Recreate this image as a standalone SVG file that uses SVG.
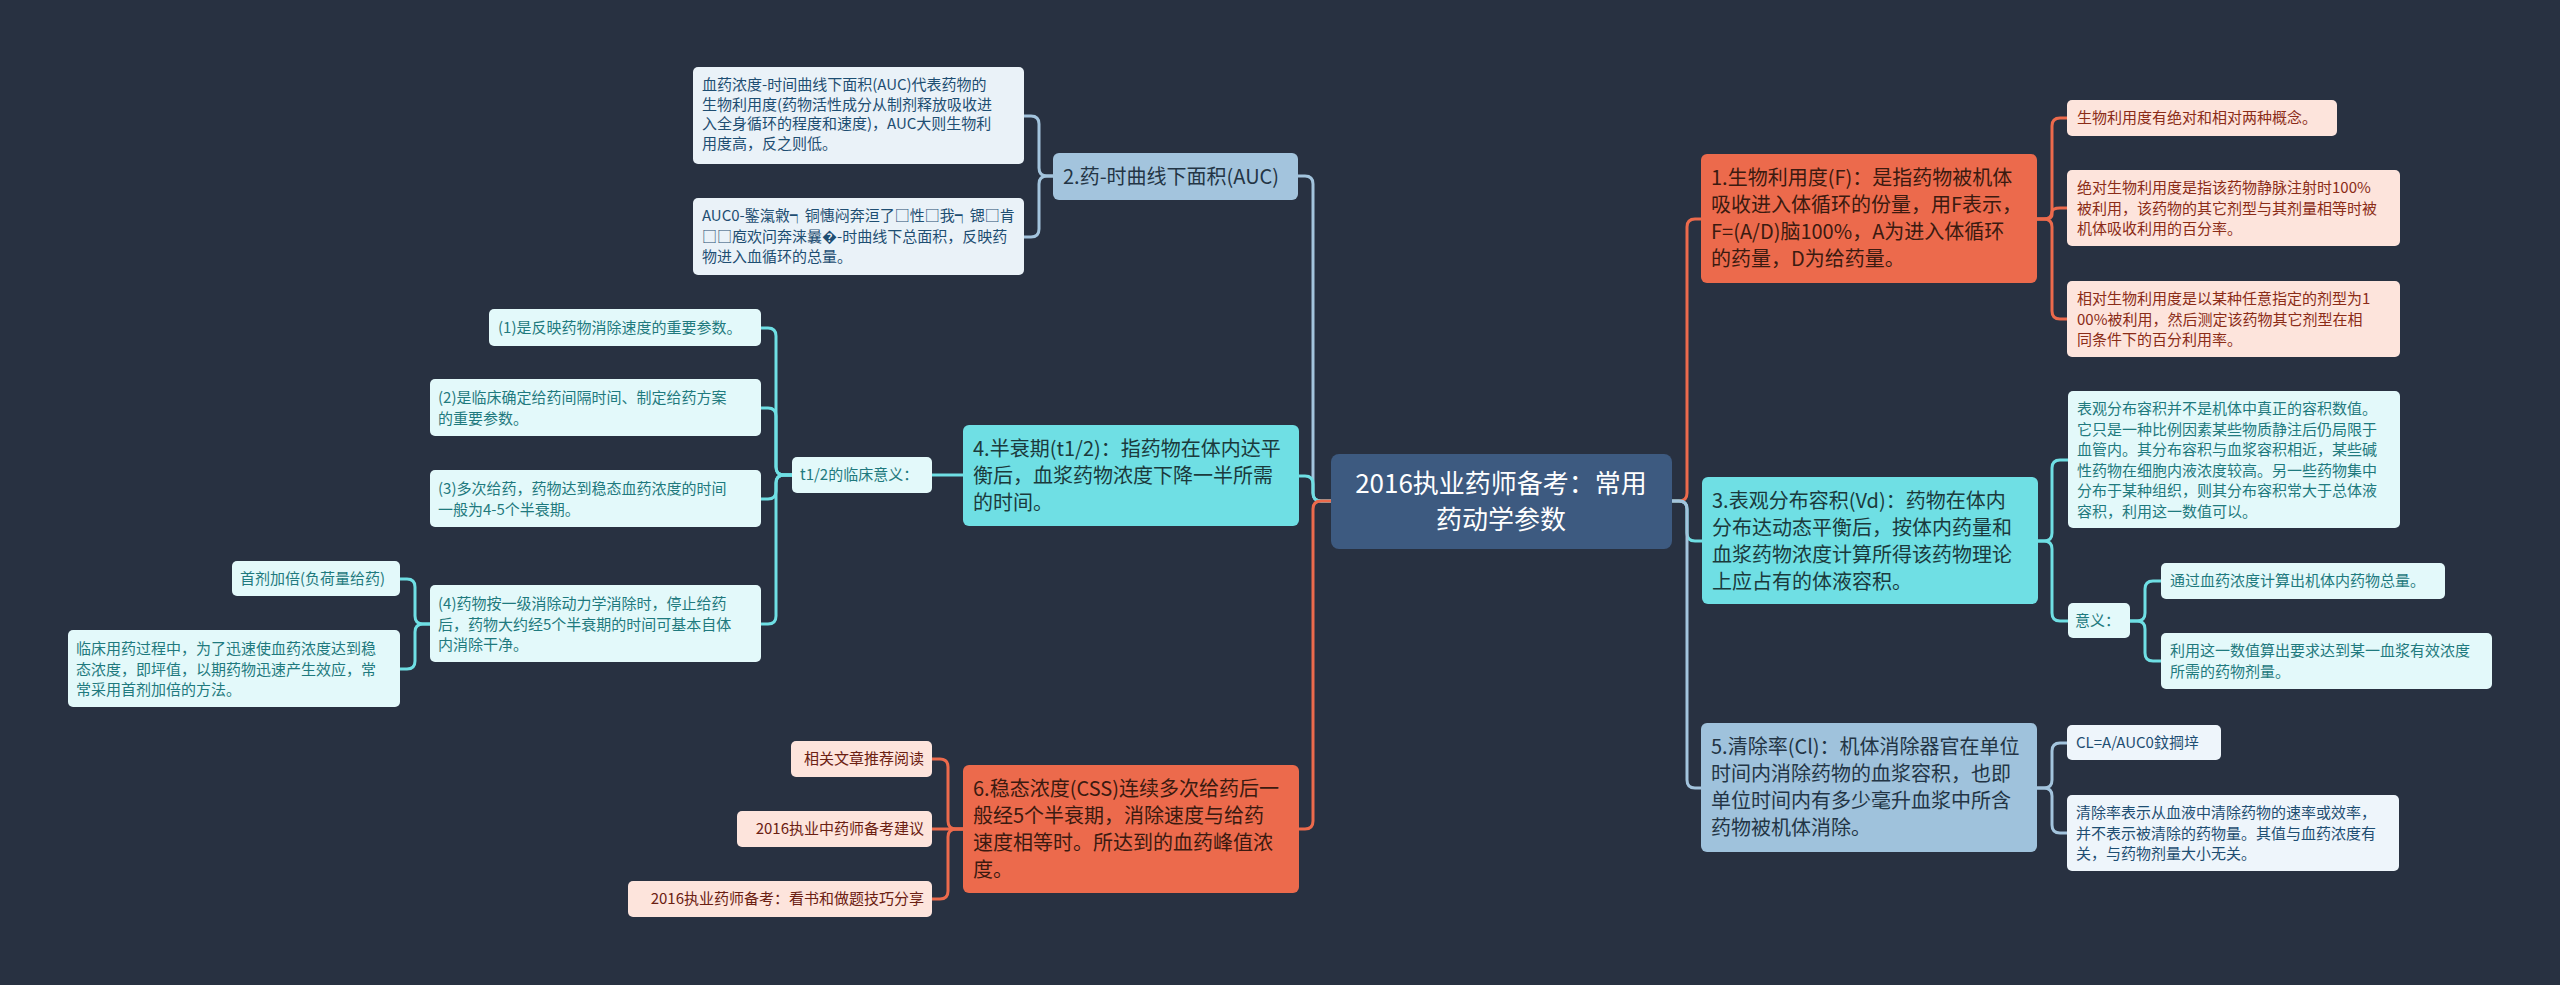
<svg xmlns="http://www.w3.org/2000/svg" width="2560" height="985" viewBox="0 0 2560 985">
<style>
text{font-family:"Noto Sans CJK SC","Noto Sans",sans-serif}
.m{font-size:20px}
.s{font-size:15px}
.c{fill:none;stroke-width:3}
.or{stroke:#ec6a4c}.cy{stroke:#6fdfe4}.bl{stroke:#a3c4dd}
</style>
<rect width="2560" height="985" fill="#283141"/>
<g id="connectors">
<path class="c bl" d="M1331 501 H1321 Q1313 501 1313 493 V184 Q1313 176 1305 176 H1298"/>
<path class="c cy" d="M1331 501 H1321 Q1313 501 1313 493 V484 Q1313 476 1305 476 H1299"/>
<path class="c or" d="M1331 501 H1321 Q1313 501 1313 509 V821 Q1313 829 1305 829 H1299"/>
<path class="c or" d="M1672 501 H1679 Q1687 501 1687 493 V227 Q1687 219 1695 219 H1701"/>
<path class="c cy" d="M1672 501 H1679 Q1687 501 1687 509 V533 Q1687 541 1695 541 H1702"/>
<path class="c bl" d="M1672 501 H1679 Q1687 501 1687 509 V780 Q1687 788 1695 788 H1701"/>
<path class="c bl" d="M1053 176 H1047 Q1039 176 1039 168 V124 Q1039 116 1031 116 H1024"/>
<path class="c bl" d="M1053 176 H1047 Q1039 176 1039 184 V229 Q1039 237 1031 237 H1024"/>
<path class="c cy" d="M963 475 H932"/>
<path class="c cy" d="M792 475 H784 Q776 475 776 467 V336 Q776 328 768 328 H761"/>
<path class="c cy" d="M792 475 H784 Q776 475 776 467 V416 Q776 408 768 408 H761"/>
<path class="c cy" d="M792 475 H784 Q776 475 776 483 V491 Q776 499 768 499 H761"/>
<path class="c cy" d="M792 475 H784 Q776 475 776 483 V616 Q776 624 768 624 H761"/>
<path class="c cy" d="M430 624 H423 Q415 624 415 616 V587 Q415 579 407 579 H400"/>
<path class="c cy" d="M430 624 H423 Q415 624 415 632 V661 Q415 669 407 669 H400"/>
<path class="c or" d="M963 829 H956 Q948 829 948 821 V767 Q948 759 940 759 H932"/>
<path class="c or" d="M963 829 H932"/>
<path class="c or" d="M963 829 H956 Q948 829 948 837 V891 Q948 899 940 899 H932"/>
<path class="c or" d="M2037 219 H2044 Q2052 219 2052 211 V126 Q2052 118 2060 118 H2067"/>
<path class="c or" d="M2037 219 H2044 Q2052 219 2052 215 V212 Q2052 208 2060 208 H2067"/>
<path class="c or" d="M2037 219 H2044 Q2052 219 2052 227 V311 Q2052 319 2060 319 H2067"/>
<path class="c cy" d="M2038 541 H2044 Q2052 541 2052 533 V468 Q2052 460 2060 460 H2068"/>
<path class="c cy" d="M2038 541 H2044 Q2052 541 2052 549 V613 Q2052 621 2060 621 H2068"/>
<path class="c cy" d="M2130 621 H2137 Q2145 621 2145 613 V589 Q2145 581 2153 581 H2161"/>
<path class="c cy" d="M2130 621 H2137 Q2145 621 2145 629 V653 Q2145 661 2153 661 H2161"/>
<path class="c bl" d="M2037 788 H2044 Q2052 788 2052 780 V751 Q2052 743 2060 743 H2067"/>
<path class="c bl" d="M2037 788 H2044 Q2052 788 2052 796 V825 Q2052 833 2060 833 H2067"/>
</g>
<g id="root"><rect x="1331" y="454" width="341" height="95" rx="8" fill="#3d5a80"/>
<text x="1501" y="493" font-size="26" fill="#fff" text-anchor="middle">2016执业药师备考：常用</text>
<text x="1501" y="529" font-size="26" fill="#fff" text-anchor="middle">药动学参数</text></g>
<g id="n1"><rect x="1701" y="154" width="336" height="129" rx="6" fill="#ec6a4c"/>
<text class="m" fill="#3b1a10"><tspan x="1711" y="185">1.生物利用度(F)：是指药物被机体</tspan><tspan x="1711" y="212">吸收进入体循环的份量，用F表示，</tspan><tspan x="1711" y="239">F=(A/D)脑100%，A为进入体循环</tspan><tspan x="1711" y="266">的药量，D为给药量。</tspan></text></g>
<g id="n1a"><rect x="2067" y="100" width="270" height="36" rx="5" fill="#fde4dc"/>
<text class="s" fill="#8b2c17" x="2077" y="123">生物利用度有绝对和相对两种概念。</text></g>
<g id="n1b"><rect x="2067" y="170" width="333" height="76" rx="5" fill="#fde4dc"/>
<text class="s" fill="#8b2c17"><tspan x="2077" y="193">绝对生物利用度是指该药物静脉注射时100%</tspan><tspan x="2077" y="213.5">被利用，该药物的其它剂型与其剂量相等时被</tspan><tspan x="2077" y="234">机体吸收利用的百分率。</tspan></text></g>
<g id="n1c"><rect x="2067" y="281" width="333" height="76" rx="5" fill="#fde4dc"/>
<text class="s" fill="#8b2c17"><tspan x="2077" y="304">相对生物利用度是以某种任意指定的剂型为1</tspan><tspan x="2077" y="324.5">00%被利用，然后测定该药物其它剂型在相</tspan><tspan x="2077" y="345">同条件下的百分利用率。</tspan></text></g>
<g id="n3"><rect x="1702" y="477" width="336" height="127" rx="6" fill="#6fdfe4"/>
<text class="m" fill="#1b3a3c"><tspan x="1712" y="508">3.表观分布容积(Vd)：药物在体内</tspan><tspan x="1712" y="535">分布达动态平衡后，按体内药量和</tspan><tspan x="1712" y="562">血浆药物浓度计算所得该药物理论</tspan><tspan x="1712" y="589">上应占有的体液容积。</tspan></text></g>
<g id="n3a"><rect x="2068" y="391" width="332" height="137" rx="5" fill="#e3f9fa"/>
<text class="s" fill="#1f7a7e"><tspan x="2077" y="414">表观分布容积并不是机体中真正的容积数值。</tspan><tspan x="2077" y="434.5">它只是一种比例因素某些物质静注后仍局限于</tspan><tspan x="2077" y="455">血管内。其分布容积与血浆容积相近，某些碱</tspan><tspan x="2077" y="475.5">性药物在细胞内液浓度较高。另一些药物集中</tspan><tspan x="2077" y="496">分布于某种组织，则其分布容积常大于总体液</tspan><tspan x="2077" y="516.5">容积，利用这一数值可以。</tspan></text></g>
<g id="n3b"><rect x="2068" y="603" width="62" height="35" rx="5" fill="#e3f9fa"/>
<text class="s" fill="#1f7a7e" x="2075" y="626">意义：</text></g>
<g id="n3b1"><rect x="2161" y="563" width="284" height="36" rx="5" fill="#e3f9fa"/>
<text class="s" fill="#1f7a7e" x="2170" y="586">通过血药浓度计算出机体内药物总量。</text></g>
<g id="n3b2"><rect x="2161" y="633" width="331" height="56" rx="5" fill="#e3f9fa"/>
<text class="s" fill="#1f7a7e"><tspan x="2170" y="656">利用这一数值算出要求达到某一血浆有效浓度</tspan><tspan x="2170" y="676.5">所需的药物剂量。</tspan></text></g>
<g id="n5"><rect x="1701" y="723" width="336" height="129" rx="6" fill="#9fc2dc"/>
<text class="m" fill="#233545"><tspan x="1711" y="754">5.清除率(Cl)：机体消除器官在单位</tspan><tspan x="1711" y="781">时间内消除药物的血浆容积，也即</tspan><tspan x="1711" y="808">单位时间内有多少毫升血浆中所含</tspan><tspan x="1711" y="835">药物被机体消除。</tspan></text></g>
<g id="n5a"><rect x="2067" y="725" width="154" height="35" rx="5" fill="#eef5fb"/>
<text class="s" fill="#1e4e72" x="2076" y="748">CL=A/AUC0鈫掆垶</text></g>
<g id="n5b"><rect x="2067" y="795" width="332" height="76" rx="5" fill="#eef5fb"/>
<text class="s" fill="#1e4e72"><tspan x="2076" y="818">清除率表示从血液中清除药物的速率或效率，</tspan><tspan x="2076" y="838.5">并不表示被清除的药物量。其值与血药浓度有</tspan><tspan x="2076" y="859">关，与药物剂量大小无关。</tspan></text></g>
<g id="n2"><rect x="1053" y="153" width="245" height="47" rx="6" fill="#a3c4dd"/>
<text class="m" fill="#233545" x="1063" y="184">2.药-时曲线下面积(AUC)</text></g>
<g id="n2a"><rect x="693" y="67" width="331" height="97" rx="5" fill="#eaf2f8"/>
<text class="s" fill="#1e4e72"><tspan x="702" y="90">血药浓度-时间曲线下面积(AUC)代表药物的</tspan><tspan x="702" y="109.5">生物利用度(药物活性成分从制剂释放吸收进</tspan><tspan x="702" y="129">入全身循环的程度和速度)，AUC大则生物利</tspan><tspan x="702" y="148.5">用度高，反之则低。</tspan></text></g>
<g id="n2b"><rect x="693" y="198" width="331" height="77" rx="5" fill="#eaf2f8"/>
<text class="s" fill="#1e4e72"><tspan x="702" y="221">AUC0-鍳滊敹┑铜憓闷奔洹了□性□我┑锶□肯</tspan><tspan x="702" y="241.5">□□庖欢问奔涞曩�-时曲线下总面积，反映药</tspan><tspan x="702" y="262">物进入血循环的总量。</tspan></text></g>
<g id="n4"><rect x="963" y="425" width="336" height="101" rx="6" fill="#6fdfe4"/>
<text class="m" fill="#1b3a3c"><tspan x="973" y="456">4.半衰期(t1/2)：指药物在体内达平</tspan><tspan x="973" y="483">衡后，血浆药物浓度下降一半所需</tspan><tspan x="973" y="510">的时间。</tspan></text></g>
<g id="n4a"><rect x="792" y="457" width="140" height="36" rx="5" fill="#e3f9fa"/>
<text class="s" fill="#1f7a7e" x="800" y="480">t1/2的临床意义：</text></g>
<g id="n4a1"><rect x="489" y="309" width="272" height="37" rx="5" fill="#e3f9fa"/>
<text class="s" fill="#1f7a7e" x="498" y="333">(1)是反映药物消除速度的重要参数。</text></g>
<g id="n4a2"><rect x="430" y="379" width="331" height="57" rx="5" fill="#e3f9fa"/>
<text class="s" fill="#1f7a7e"><tspan x="438" y="403">(2)是临床确定给药间隔时间、制定给药方案</tspan><tspan x="438" y="423.5">的重要参数。</tspan></text></g>
<g id="n4a3"><rect x="430" y="470" width="331" height="57" rx="5" fill="#e3f9fa"/>
<text class="s" fill="#1f7a7e"><tspan x="438" y="494">(3)多次给药，药物达到稳态血药浓度的时间</tspan><tspan x="438" y="514.5">一般为4-5个半衰期。</tspan></text></g>
<g id="n4a4"><rect x="430" y="585" width="331" height="77" rx="5" fill="#e3f9fa"/>
<text class="s" fill="#1f7a7e"><tspan x="438" y="609">(4)药物按一级消除动力学消除时，停止给药</tspan><tspan x="438" y="629.5">后，药物大约经5个半衰期的时间可基本自体</tspan><tspan x="438" y="650">内消除干净。</tspan></text></g>
<g id="n4a4a"><rect x="232" y="561" width="168" height="35" rx="5" fill="#e3f9fa"/>
<text class="s" fill="#1f7a7e" x="240" y="584">首剂加倍(负荷量给药)</text></g>
<g id="n4a4b"><rect x="68" y="630" width="332" height="77" rx="5" fill="#e3f9fa"/>
<text class="s" fill="#1f7a7e"><tspan x="76" y="654">临床用药过程中，为了迅速使血药浓度达到稳</tspan><tspan x="76" y="674.5">态浓度，即坪值，以期药物迅速产生效应，常</tspan><tspan x="76" y="695">常采用首剂加倍的方法。</tspan></text></g>
<g id="n6"><rect x="963" y="765" width="336" height="128" rx="6" fill="#ec6a4c"/>
<text class="m" fill="#3b1a10"><tspan x="973" y="796">6.稳态浓度(CSS)连续多次给药后一</tspan><tspan x="973" y="823">般经5个半衰期，消除速度与给药</tspan><tspan x="973" y="850">速度相等时。所达到的血药峰值浓</tspan><tspan x="973" y="877">度。</tspan></text></g>
<g id="n6a"><rect x="791" y="741" width="141" height="36" rx="5" fill="#fde4dc"/>
<text class="s" fill="#6b2012" x="924" y="764" text-anchor="end">相关文章推荐阅读</text></g>
<g id="n6b"><rect x="737" y="811" width="195" height="36" rx="5" fill="#fde4dc"/>
<text class="s" fill="#6b2012" x="924" y="834" text-anchor="end">2016执业中药师备考建议</text></g>
<g id="n6c"><rect x="628" y="881" width="304" height="36" rx="5" fill="#fde4dc"/>
<text class="s" fill="#6b2012" x="924" y="904" text-anchor="end">2016执业药师备考：看书和做题技巧分享</text></g>
</svg>
